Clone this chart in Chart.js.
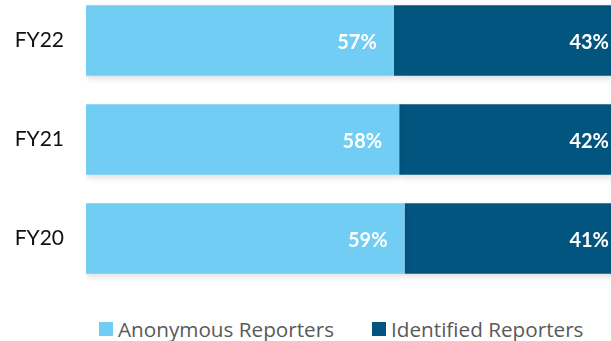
<!DOCTYPE html>
<html>
<head>
<meta charset="utf-8">
<script src="https://cdn.jsdelivr.net/npm/chart.js@4"></script>
<style>
  html, body { margin: 0; padding: 0; background: #fff; overflow: hidden; }
  body { width: 611px; height: 341px; position: relative; }
  #reportChart { position: absolute; left: 0; top: -9px; }
  #legend { position: absolute; left: 99px; top: 315px; width: 600px; display: flex; align-items: center;
            white-space: nowrap; font-family: "Open Sans", sans-serif; font-size: 20.7px; color: #595959; }
  #legend .item { display: flex; align-items: center; flex-shrink: 0; margin-right: 38px; }
  #legend .box { width: 14px; height: 14px; flex-shrink: 0; margin-right: 5px; }
</style>
</head>
<body>
<canvas id="reportChart" width="626" height="297"></canvas>
<div id="legend"></div>
<script>
const years = ["FY22", "FY21", "FY20"];
const anonymous = [57, 58, 59];
const identified = [43, 42, 41];
const seriesNames = ["Anonymous Reporters", "Identified Reporters"];
const seriesColors = ["#71cdf4", "#02557f"];

// value labels sit inside the end of each bar segment
const endLabels = {
  id: "endLabels",
  afterDatasetsDraw(chart) {
    const ctx = chart.ctx;
    ctx.save();
    ctx.font = "bold 20px Lato, sans-serif";
    ctx.fillStyle = "#fff";
    ctx.textAlign = "right";
    ctx.textBaseline = "middle";
    chart.data.datasets.forEach((ds, i) => {
      chart.getDatasetMeta(i).data.forEach((bar, j) => {
        ctx.fillText(ds.data[j] + "%", bar.x - 17, bar.y + 2);
      });
    });
    ctx.restore();
  },
};

// soft drop shadow under the bars
const barShadow = {
  id: "barShadow",
  beforeDatasetsDraw(chart) {
    const ctx = chart.ctx;
    ctx.save();
    ctx.shadowColor = "rgba(0,0,0,0.12)";
    ctx.shadowBlur = 6;
    ctx.shadowOffsetY = 3;
  },
  afterDatasetsDraw(chart) {
    chart.ctx.restore();
  },
};

const chart = new Chart(document.getElementById("reportChart"), {
  type: "bar",
  data: {
    labels: years,
    datasets: [
      { label: seriesNames[0], data: anonymous, backgroundColor: seriesColors[0] },
      { label: seriesNames[1], data: identified, backgroundColor: seriesColors[1] },
    ],
  },
  options: {
    indexAxis: "y",
    responsive: false,
    animation: false,
    barPercentage: 0.71,
    categoryPercentage: 1,
    layout: { padding: 0 },
    plugins: { legend: { display: false }, tooltip: { enabled: false } },
    scales: {
      x: { stacked: true, min: 0, max: 100, display: false },
      y: {
        stacked: true,
        grid: { display: false },
        border: { display: false },
        afterFit: (scale) => {
          scale.width = 86;
          scale.paddingTop = 0;
          scale.paddingBottom = 0;
        },
        ticks: { color: "#111", padding: 14, font: { family: "Lato, sans-serif", size: 21 } },
      },
    },
  },
  plugins: [barShadow, endLabels],
});

// legend built from the chart's datasets
const legend = document.getElementById("legend");
chart.data.datasets.forEach((ds) => {
  const item = document.createElement("div");
  item.className = "item";
  const box = document.createElement("span");
  box.className = "box";
  box.style.background = ds.backgroundColor;
  const txt = document.createElement("span");
  txt.textContent = ds.label;
  item.appendChild(box);
  item.appendChild(txt);
  legend.appendChild(item);
});
</script>
</body>
</html>
